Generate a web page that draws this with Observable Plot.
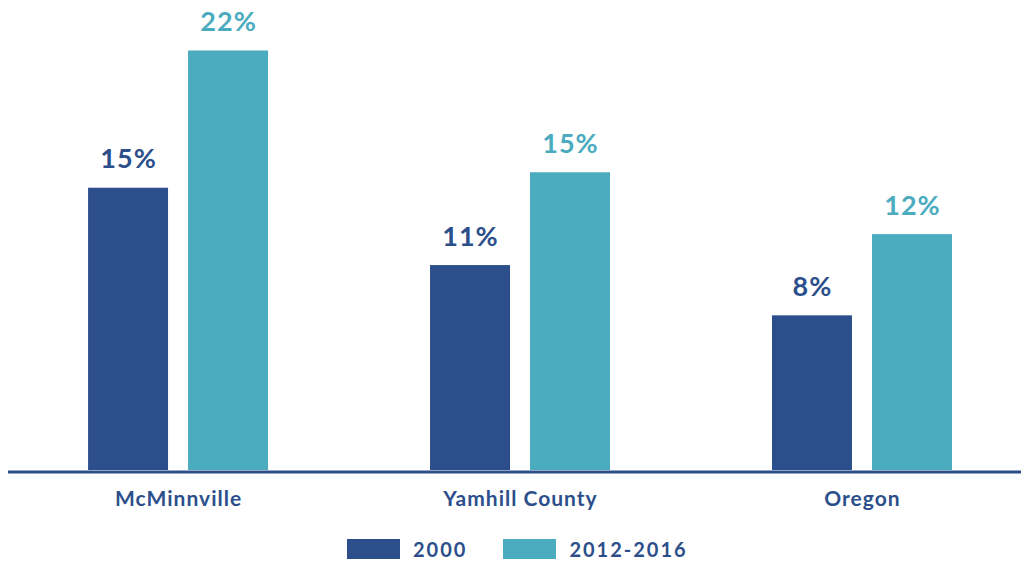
<!DOCTYPE html>
<html>
<head>
<meta charset="utf-8">
<script src="https://cdn.jsdelivr.net/npm/d3@7"></script>
<script src="https://cdn.jsdelivr.net/npm/@observablehq/plot@0.6"></script>
<style>
  html, body { margin: 0; padding: 0; background: #fff; overflow: hidden; }
  #chart svg { display: block; }
  .legend { display: flex; align-items: center; margin-top: 9px; padding-left: 347px;
    font-family: Lato, "Open Sans", sans-serif; font-weight: 700; font-size: 20px; line-height: 20px; color: #2c4f8b; letter-spacing: 2px; }
  .legend .sw { width: 53px; height: 20px; display: inline-block; margin-right: 13px; }
  .legend .item { display: flex; align-items: center; margin-right: 36px; }
</style>
</head>
<body>
<div id="chart"></div>
<div class="legend" id="legend"></div>
<script>
const categories = ["McMinnville", "Yamhill County", "Oregon"];
const series = ["2000", "2012-2016"];
const values2000 = [14.6, 10.6, 8.0];
const values2016 = [21.7, 15.4, 12.2];
const labels2000 = ["15%", "11%", "8%"];
const labels2016 = ["22%", "15%", "12%"];
const colors = ["#2c4f8b", "#4babbf"];

const d2000 = categories.map((c, i) => ({category: c, series: series[0], value: values2000[i], label: labels2000[i]}));
const d2016 = categories.map((c, i) => ({category: c, series: series[1], value: values2016[i], label: labels2016[i]}));

const font = "Lato, 'Open Sans', sans-serif";

const chart = Plot.plot({
  width: 1021,
  height: 530,
  marginLeft: 8,
  marginRight: 0,
  marginTop: 6,
  marginBottom: 60,
  style: {fontFamily: font, background: "#fff"},
  x: {domain: categories, paddingInner: 1 - 180/342, paddingOuter: 0.218, align: 0.537, round: false, label: null},
  y: {domain: [0, 24], axis: null},
  color: {domain: series, range: colors},
  marks: [
    Plot.barY(d2000, {x: "category", y: "value", fill: colors[0], insetRight: 100, insetLeft: 0}),
    Plot.barY(d2016, {x: "category", y: "value", fill: colors[1], insetLeft: 100, insetRight: 0}),
    Plot.text(d2000, {x: "category", y: "value", text: "label", dx: -50, dy: -20, lineAnchor: "bottom",
      fill: colors[0], fontSize: 27, fontWeight: 700}),
    Plot.text(d2016, {x: "category", y: "value", text: "label", dx: 50, dy: -20, lineAnchor: "bottom",
      fill: colors[1], fontSize: 27, fontWeight: 700}),
    Plot.ruleY([0], {stroke: colors[0], strokeWidth: 3, dy: 1.5}),
    Plot.axisX({tickSize: 0, tickPadding: 21, fontSize: 21, fontWeight: 700, fill: colors[0], label: null})
  ]
});
chart.querySelectorAll("text").forEach(t => t.style.letterSpacing = "1px");
document.getElementById("chart").appendChild(chart);

const legend = document.getElementById("legend");
series.forEach((s, i) => {
  const item = document.createElement("div");
  item.className = "item";
  const sw = document.createElement("span");
  sw.className = "sw";
  sw.style.background = colors[i];
  const tx = document.createElement("span");
  tx.textContent = s;
  item.appendChild(sw);
  item.appendChild(tx);
  legend.appendChild(item);
});
</script>
</body>
</html>
